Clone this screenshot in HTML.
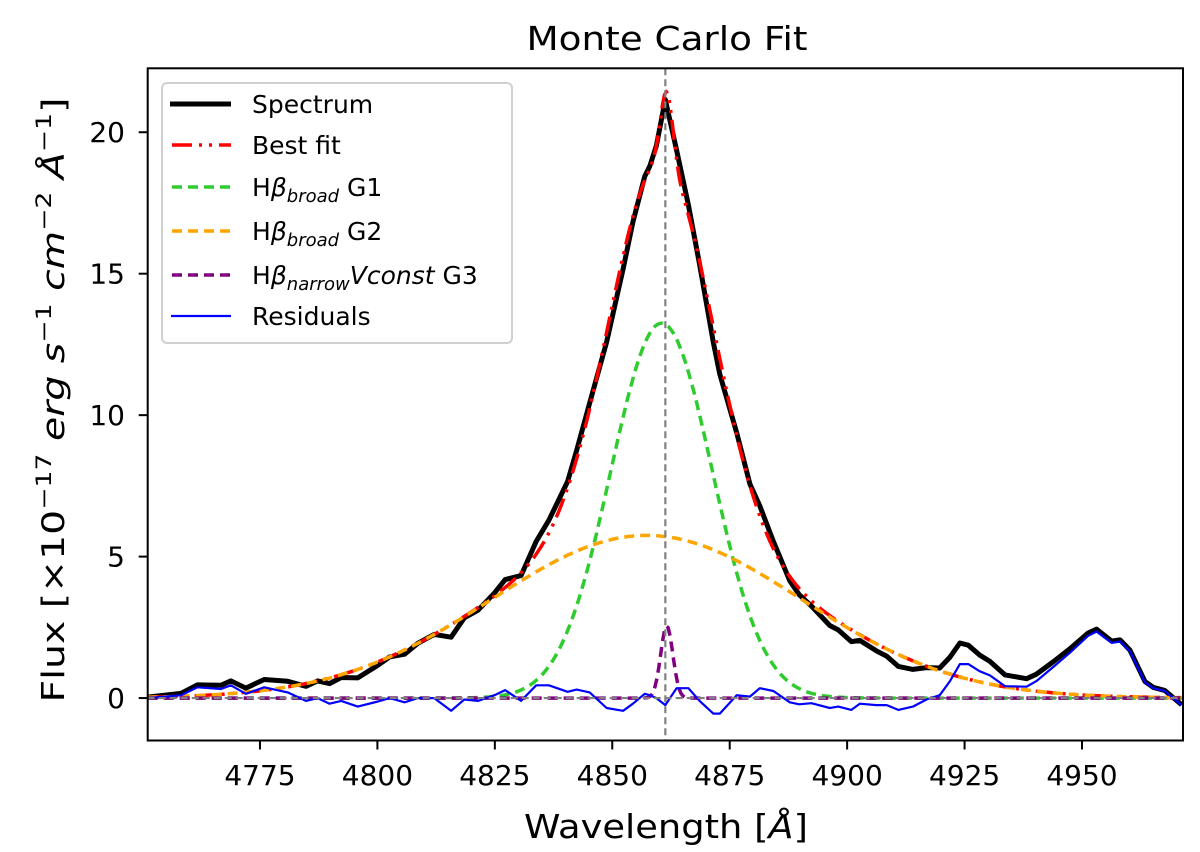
<!DOCTYPE html>
<html><head><meta charset="utf-8">
<style>
body{margin:0;background:#fff;}
svg{display:block;font-family:"DejaVu Sans","Liberation Sans",sans-serif;}
</style></head>
<body>
<svg id="chart" width="1200" height="852" viewBox="0 0 1200 852" xmlns="http://www.w3.org/2000/svg">
<rect width="1200" height="852" fill="#fff"/>
<text x="667" y="50" font-size="33" text-anchor="middle" textLength="281" lengthAdjust="spacingAndGlyphs">Monte Carlo Fit</text>
<g id="plot"></g>
<g id="axes"></g>
<text x="666" y="838" font-size="33" text-anchor="middle" textLength="284" lengthAdjust="spacingAndGlyphs">Wavelength [<tspan font-style="italic">Å</tspan>]</text>
<text transform="translate(64,400) rotate(-90)" font-size="31" text-anchor="middle" textLength="605" lengthAdjust="spacingAndGlyphs">Flux [×10<tspan font-size="21" dy="-13">−17</tspan><tspan dy="13" font-style="italic"> erg s</tspan><tspan font-size="21" dy="-13">−1</tspan><tspan dy="13" font-style="italic"> cm</tspan><tspan font-size="21" dy="-13">−2</tspan><tspan dy="13" font-style="italic"> Å</tspan><tspan font-size="21" dy="-13">−1</tspan><tspan dy="13">]</tspan></text>
<g>
<rect x="162" y="83" width="350" height="260" rx="5" fill="#fff" fill-opacity="0.8" stroke="#d0d0d0" stroke-width="2"/>
<line x1="170" y1="104" x2="231" y2="104" stroke="#000" stroke-width="5"/>
<text x="252" y="113" font-size="25">Spectrum</text>
<line x1="172" y1="145" x2="231" y2="145" stroke="red" stroke-width="3.5" stroke-dasharray="20,7,3,7,3,7"/>
<text x="252" y="154" font-size="25">Best fit</text>
<line x1="172" y1="187" x2="231" y2="187" stroke="#2ecc2e" stroke-width="3.5" stroke-dasharray="10,6"/>
<text x="252" y="196" font-size="25">H<tspan font-style="italic">β</tspan><tspan font-style="italic" font-size="18" dy="6">broad</tspan><tspan dy="-6"> G1</tspan></text>
<line x1="172" y1="231" x2="231" y2="231" stroke="orange" stroke-width="3.5" stroke-dasharray="10,6"/>
<text x="252" y="240" font-size="25">H<tspan font-style="italic">β</tspan><tspan font-style="italic" font-size="18" dy="6">broad</tspan><tspan dy="-6"> G2</tspan></text>
<line x1="172" y1="275" x2="231" y2="275" stroke="purple" stroke-width="3.5" stroke-dasharray="10,6"/>
<text x="252" y="284" font-size="25">H<tspan font-style="italic">β</tspan><tspan font-style="italic" font-size="18" dy="6">narrow</tspan><tspan dy="-6" font-style="italic">Vconst</tspan><tspan> G3</tspan></text>
<line x1="171" y1="316" x2="231" y2="316" stroke="blue" stroke-width="2.2"/>
<text x="252" y="325" font-size="25">Residuals</text>
</g>
</svg>
<script>
// Data arrays
const residWave = [4751.1,4758.2,4761.7,4766.7,4768.8,4772,4775.9,4780.9,4784.8,4787.3,4789.8,4792.3,4795.8,4800.1,4802.6,4805.8,4808.6,4812.1,4815.7,4818.5,4821.4,4824.9,4827.2,4830.6,4833.8,4836.5,4840.5,4842.4,4845.2,4848.8,4852.3,4854.4,4856.9,4858,4859.4,4861.3,4863.7,4866.2,4868.6,4871.5,4872.9,4876.5,4879.3,4881.4,4884.3,4887.8,4889.8,4892.4,4896.3,4898.1,4900.9,4902.7,4906.2,4908.4,4910.9,4914,4916.9,4919.7,4921.9,4924,4925.8,4928.2,4930.4,4933.6,4938.2,4940.3,4943.9,4947.4,4951.3,4953.1,4956.3,4958.1,4960.2,4963.4,4965.2,4967.6,4971.2];
const residVals = [0,0.1,0.38,0.32,0.45,0.15,0.38,0.2,-0.1,0,-0.2,-0.1,-0.3,-0.12,0,-0.15,0,0,-0.45,-0.05,-0.1,0.1,0.28,-0.1,0.45,0.45,0.22,0.3,0.2,-0.35,-0.45,-0.2,0.15,0.1,0,-0.25,0.35,0.35,-0.1,-0.55,-0.55,0.1,0.05,0.35,0.25,-0.15,-0.22,-0.18,-0.35,-0.3,-0.42,-0.2,-0.25,-0.25,-0.42,-0.3,-0.05,0.1,0.6,1.2,1.2,0.95,0.8,0.42,0.4,0.6,1.1,1.6,2.2,2.35,1.95,2.0,1.65,0.55,0.35,0.25,-0.25];
const compAmp = [13.25, 5.75, 2.55];
const compCenter = [4860.5, 4857.3, 4861.6];
const compSigma = [10.8, 33, 1.3];
const xTicks = [4775,4800,4825,4850,4875,4900,4925,4950];
const yTicks = [0,5,10,15,20];
const lineCenter = [4861.3];

const X0=147.7, X1=1183, Y0=68.3, Y1=740.5;
const xMin=4751.1, xMax=4971.5, yMin=-1.5, yMax=22.26;
const sx = v => X0 + (v-xMin)/(xMax-xMin)*(X1-X0);
const sy = v => Y1 - (v-yMin)/(yMax-yMin)*(Y1-Y0);
const NS="http://www.w3.org/2000/svg";
const plot=document.getElementById('plot'), axes=document.getElementById('axes');
function gauss(i,l){const d=l-compCenter[i];return compAmp[i]*Math.exp(-d*d/(2*compSigma[i]*compSigma[i]));}
function fit(l){let s=0;for(let i=0;i<compAmp.length;i++)s+=gauss(i,l);return s;}
function pathD(xs,ys){return xs.map((x,i)=>(i?'L':'M')+sx(x).toFixed(1)+','+sy(ys[i]).toFixed(1)).join('');}
function addPath(d,stroke,w,dash,name){
  const p=document.createElementNS(NS,'path');
  p.setAttribute('d',d);p.setAttribute('fill','none');p.setAttribute('stroke',stroke);
  p.setAttribute('stroke-width',w);p.setAttribute('stroke-linejoin','round');
  if(dash)p.setAttribute('stroke-dasharray',dash);
  
  
  plot.appendChild(p);
}
const clip=document.createElementNS(NS,'clipPath');clip.setAttribute('id','cp');
const cr=document.createElementNS(NS,'rect');cr.setAttribute('x',X0);cr.setAttribute('y',Y0);cr.setAttribute('width',X1-X0);cr.setAttribute('height',Y1-Y0);
clip.appendChild(cr);document.getElementById('chart').appendChild(clip);
plot.setAttribute('clip-path','url(#cp)');

const fine=[];for(let l=xMin;l<=xMax+0.01;l+=0.4)fine.push(l);
const specVals = residWave.map((l,i)=>fit(l)+residVals[i]);
addPath(pathD(residWave,specVals),'#000',5,null,'spectrum-line');
addPath(pathD(fine,fine.map(fit)),'red',3.5,'20,7,3,7,3,7','best-fit-line');
addPath(pathD(fine,fine.map(l=>gauss(0,l))),'#2ecc2e',3.5,'10,6','g1-broad-line');
addPath(pathD(fine,fine.map(l=>gauss(1,l))),'orange',3.5,'10,6','g2-broad-line');
addPath(pathD(fine,fine.map(l=>gauss(2,l))),'purple',3.5,'10,6','g3-narrow-line');
addPath(pathD(residWave,residVals),'blue',2.2,null,'residuals-line');
addPath('M'+X0+','+sy(0)+'H'+X1,'#808080',2.2,'7,4','zero-reference-line');
addPath('M'+sx(lineCenter[0])+','+Y0+'V'+Y1,'#808080',2.2,'7,4','hbeta-center-line');

function mk(tag,attrs,txt){const e=document.createElementNS(NS,tag);for(const k in attrs)e.setAttribute(k,attrs[k]);if(txt!==undefined)e.textContent=txt;axes.appendChild(e);return e;}
const frame=mk('rect',{x:X0,y:Y0,width:X1-X0,height:Y1-Y0,fill:'none',stroke:'#000','stroke-width':2});


xTicks.forEach(t=>{
  const x=sx(t);
  const ln=mk('line',{x1:x,y1:Y1,x2:x,y2:Y1+9,stroke:'#000','stroke-width':2});
  
  
  const tx=mk('text',{x:x,y:785,'font-size':28,'text-anchor':'middle'},String(t));
  
  
});
yTicks.forEach(t=>{
  const y=sy(t);
  const ln=mk('line',{x1:X0-9,y1:y,x2:X0,y2:y,stroke:'#000','stroke-width':2});
  
  
  const tx=mk('text',{x:125,y:y+10,'font-size':28,'text-anchor':'end'},String(t));
  
  
});
</script>
</body></html>
